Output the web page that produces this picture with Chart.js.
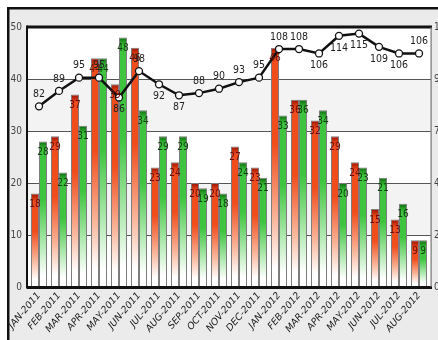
<!DOCTYPE html>
<html>
<head>
<meta charset="utf-8">
<script src="https://cdn.jsdelivr.net/npm/chart.js@4"></script>
<style>
  html, body { margin: 0; padding: 0; background: #ffffff; overflow: hidden; }
  #wrap { width: 438px; height: 340px; position: relative; }
</style>
</head>
<body>
<div id="wrap"><canvas id="c" width="438" height="340"></canvas></div>
<script>
// Monthly figures, Jan 2011 – Aug 2012
const months = [
  'JAN-2011','FEB-2011','MAR-2011','APR-2011','MAY-2011','JUN-2011','JUL-2011',
  'AUG-2011','SEP-2011','OCT-2011','NOV-2011','DEC-2011','JAN-2012','FEB-2012',
  'MAR-2012','APR-2012','MAY-2012','JUN-2012','JUL-2012','AUG-2012'
];
const redValues   = [18, 29, 37, 44, 39, 46, 23, 24, 20, 20, 27, 23, 46, 36, 32, 29, 24, 15, 13, 9];
const greenValues = [28, 22, 31, 44, 48, 34, 29, 29, 19, 18, 24, 21, 33, 36, 34, 20, 23, 21, 16, 9];
const lineValues  = [82, 89, 95, 95, 86, 98, 92, 87, 88, 90, 93, 95, 108, 108, 106, 114, 115, 109, 106, 106];

const leftTicks  = [0, 10, 20, 30, 40, 50];
const rightTicks = [0, 23.6, 47.2, 70.8, 94.4, 118];

// Vertical gradient for a bar: dark cap, bright body, fading to white at the base
function barFill(stops) {
  return (ctx) => {
    const chart = ctx.chart;
    if (!chart.chartArea || ctx.type !== 'data') return stops[1];
    const yS = chart.scales.y;
    const top = yS.getPixelForValue(ctx.raw);
    const bottom = yS.getPixelForValue(0);
    const h = Math.max(bottom - top, 1);
    const g = chart.ctx.createLinearGradient(0, top, 0, bottom);
    g.addColorStop(0, stops[0]);
    g.addColorStop(Math.min(0.3, 8 / h), stops[1]);
    g.addColorStop(0.4, stops[1]);
    g.addColorStop(0.72, stops[2]);
    g.addColorStop(0.92, '#ffffff');
    g.addColorStop(1, '#ffffff');
    return g;
  };
}

const frame = { left: 27, right: 431 };

const backdrop = {
  id: 'backdrop',
  beforeDraw(chart) {
    const c = chart.ctx;
    const yS = chart.scales.y;
    const top = yS.getPixelForValue(50), bottom = yS.getPixelForValue(0);
    c.save();
    c.fillStyle = '#ffffff';
    c.fillRect(0, 0, chart.width, chart.height);
    // outer panel
    c.fillStyle = '#ebebeb';
    c.fillRect(8, 8, chart.width, chart.height);
    c.fillStyle = '#111111';
    c.fillRect(7, 7, chart.width, 2.5);
    c.fillRect(7, 7, 2.5, chart.height);
    // plot background with alternating bands
    c.fillStyle = '#ffffff';
    c.fillRect(frame.left, top, frame.right - frame.left, bottom - top);
    c.fillStyle = '#f3f3f3';
    [[10, 20], [30, 40]].forEach(([a, b]) => {
      const y1 = yS.getPixelForValue(b), y2 = yS.getPixelForValue(a);
      c.fillRect(frame.left, y1, frame.right - frame.left, y2 - y1);
    });
    // horizontal grid
    c.strokeStyle = '#555555';
    c.lineWidth = 1;
    leftTicks.slice(1, -1).forEach(v => {
      const y = Math.round(yS.getPixelForValue(v)) + 0.5;
      c.beginPath(); c.moveTo(frame.left, y); c.lineTo(frame.right, y); c.stroke();
    });
    c.restore();
  },
  afterDatasetsDraw(chart) {
    const c = chart.ctx;
    const yS = chart.scales.y;
    const top = yS.getPixelForValue(50), bottom = yS.getPixelForValue(0);
    c.save();
    c.fillStyle = '#111111';
    c.fillRect(frame.left, top - 1.5, frame.right - frame.left + 1, 3);
    c.fillRect(frame.left, bottom - 1, frame.right - frame.left + 1, 3);
    c.fillRect(frame.left - 1, top - 1.5, 2, bottom - top + 3);
    c.fillStyle = '#777777';
    c.fillRect(frame.right - 0.5, top, 1.2, bottom - top);
    c.restore();
  }
};

const valueLabels = {
  id: 'valueLabels',
  afterDatasetsDraw(chart) {
    const c = chart.ctx;
    c.save();
    c.textAlign = 'center';
    c.textBaseline = 'middle';
    c.font = '10px "Liberation Sans Narrow", "DejaVu Sans Condensed", sans-serif';
    const barColors = ['#6a0a00', '#0b3d0b'];
    [0, 1].forEach(di => {
      const meta = chart.getDatasetMeta(di);
      c.fillStyle = barColors[di];
      meta.data.forEach((bar, i) => {
        c.fillText(String(chart.data.datasets[di].data[i]), bar.x, bar.y + 11);
      });
    });
    const lineMeta = chart.getDatasetMeta(2);
    const vals = chart.data.datasets[2].data;
    c.font = '10.5px "Liberation Sans Narrow", "DejaVu Sans Condensed", sans-serif';
    c.fillStyle = '#222222';
    lineMeta.data.forEach((pt, i) => {
      const prev = i > 0 ? vals[i - 1] : vals[i];
      const below = vals[i] < prev || pt.y - chart.chartArea.top < 16;
      c.fillText(String(vals[i]), pt.x, below ? pt.y + 12 : pt.y - 12);
    });
    c.restore();
  }
};

new Chart(document.getElementById('c'), {
  data: {
    labels: months,
    datasets: [
      {
        type: 'bar', label: 'A', data: redValues, yAxisID: 'y', order: 1,
        backgroundColor: barFill(['#9a1000', '#f04c1c', '#f9b79c']),
        borderColor: '#7d7d7d', borderWidth: { left: 1, right: 1, top: 1, bottom: 0 },
        borderSkipped: 'bottom',
        categoryPercentage: 0.8, barPercentage: 1.0
      },
      {
        type: 'bar', label: 'B', data: greenValues, yAxisID: 'y', order: 1,
        backgroundColor: barFill(['#0b6a0b', '#3ec43e', '#b5ebb5']),
        borderColor: '#7d7d7d', borderWidth: { left: 1, right: 1, top: 1, bottom: 0 },
        borderSkipped: 'bottom',
        categoryPercentage: 0.8, barPercentage: 1.0
      },
      {
        type: 'line', label: 'C', data: lineValues, yAxisID: 'y1', order: 0,
        borderColor: '#111111', borderWidth: 2.5, tension: 0,
        pointRadius: 3.5, pointBackgroundColor: '#ffffff',
        pointBorderColor: '#111111', pointBorderWidth: 1.3
      }
    ]
  },
  options: {
    responsive: false,
    devicePixelRatio: 1,
    animation: false,
    layout: { padding: { top: 27, left: 0, right: 0, bottom: 0 } },
    plugins: { legend: { display: false }, tooltip: { enabled: false } },
    scales: {
      x: {
        grid: { display: false, drawTicks: false },
        border: { display: false },
        ticks: {
          autoSkip: false, minRotation: 50, maxRotation: 50, padding: 3,
          color: '#1a1a1a',
          font: { size: 9.5, style: 'italic', family: '"DejaVu Sans", sans-serif' }
        },
        afterFit: s => { s.height = 53; s.paddingLeft = 0; s.paddingRight = 0; }
      },
      y: {
        position: 'left', min: 0, max: 50,
        grid: { display: false, drawTicks: false },
        border: { display: false },
        ticks: { padding: 7, color: '#444444', font: { size: 10, family: '"Liberation Sans Narrow", "DejaVu Sans Condensed", sans-serif' } },
        afterBuildTicks: s => { s.ticks = leftTicks.map(v => ({ value: v })); },
        afterFit: s => { s.width = 29; s.paddingTop = 0; s.paddingBottom = 0; }
      },
      y1: {
        position: 'right', min: 0, max: 118,
        grid: { display: false, drawTicks: false },
        border: { display: false },
        ticks: {
          padding: 5, color: '#444444',
          font: { size: 10, family: '"Liberation Sans Narrow", "DejaVu Sans Condensed", sans-serif' },
          callback: v => String(Math.round(v))
        },
        afterBuildTicks: s => { s.ticks = rightTicks.map(v => ({ value: v })); },
        afterFit: s => { s.width = 9; s.paddingTop = 0; s.paddingBottom = 0; }
      }
    }
  },
  plugins: [backdrop, valueLabels]
});
</script>
</body>
</html>
